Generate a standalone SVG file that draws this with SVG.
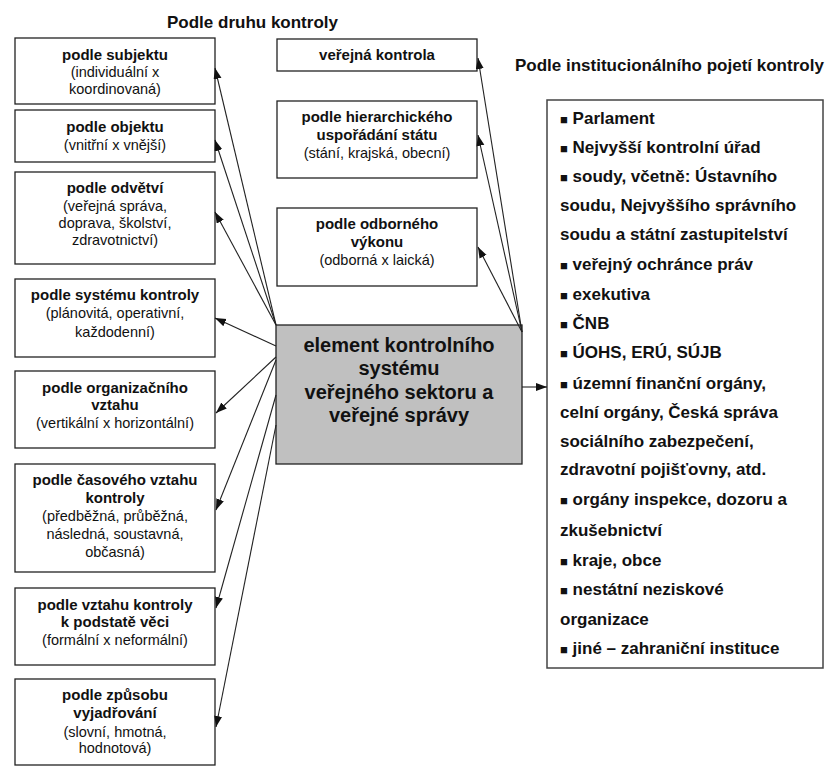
<svg xmlns="http://www.w3.org/2000/svg" width="827" height="767" viewBox="0 0 827 767">
<defs>
<style>
.box{fill:#fff;stroke:#222;stroke-width:1.3}
.cbox{fill:#c0c0c0;stroke:#222;stroke-width:1.3}
.rbox{fill:#fff;stroke:#444;stroke-width:1.5}
text{font-family:"Liberation Sans",Arial,sans-serif;fill:#111;text-anchor:middle}
.t{font-size:15px;font-weight:bold}
.s{font-size:14.5px}
.h{font-size:17px;font-weight:bold;text-anchor:start}
.c{font-size:20px;font-weight:bold}
.r{font-size:17px;font-weight:bold;text-anchor:start}
.b{font-size:13px}
.con line{stroke:#222;stroke-width:1.1}
</style>
<marker id="ah" markerWidth="12" markerHeight="10" refX="11" refY="4" orient="auto" markerUnits="userSpaceOnUse"><path d="M0,0 L11,4 L0,8 z" fill="#111"/></marker>
</defs>
<rect width="827" height="767" fill="#fff"/>
<text class="h" x="167" y="28">Podle druhu kontroly</text>
<text class="h" x="515" y="71">Podle institucionálního pojetí kontroly</text>

<g id="n1"><rect class="box" x="15" y="38" width="200" height="66"/>
<text class="t" x="115" y="60">podle subjektu</text><text class="s" x="115" y="77">(individuální x</text><text class="s" x="115" y="94">koordinovaná)</text></g>
<g id="n2"><rect class="box" x="15" y="110" width="200" height="52"/>
<text class="t" x="115" y="132">podle objektu</text><text class="s" x="115" y="150">(vnitřní x vnější)</text></g>
<g id="n3"><rect class="box" x="15" y="172" width="200" height="92"/>
<text class="t" x="115" y="193">podle odvětví</text><text class="s" x="115" y="211">(veřejná správa,</text><text class="s" x="115" y="228">doprava, školství,</text><text class="s" x="115" y="245">zdravotnictví)</text></g>
<g id="n4"><rect class="box" x="15" y="279" width="200" height="78"/>
<text class="t" x="115" y="300">podle systému kontroly</text><text class="s" x="115" y="318">(plánovitá, operativní,</text><text class="s" x="115" y="337">každodenní)</text></g>
<g id="n5"><rect class="box" x="15" y="371" width="200" height="77"/>
<text class="t" x="115" y="393">podle organizačního</text><text class="t" x="115" y="410">vztahu</text><text class="s" x="115" y="428">(vertikální x horizontální)</text></g>
<g id="n6"><rect class="box" x="15" y="464" width="200" height="108"/>
<text class="t" x="115" y="485">podle časového vztahu</text><text class="t" x="115" y="503">kontroly</text><text class="s" x="115" y="521">(předběžná, průběžná,</text><text class="s" x="115" y="539">následná, soustavná,</text><text class="s" x="115" y="557">občasná)</text></g>
<g id="n7"><rect class="box" x="15" y="588" width="200" height="77"/>
<text class="t" x="115" y="610">podle vztahu kontroly</text><text class="t" x="115" y="627">k podstatě věci</text><text class="s" x="115" y="645">(formální x neformální)</text></g>
<g id="n8"><rect class="box" x="15" y="679" width="200" height="86"/>
<text class="t" x="115" y="700">podle způsobu</text><text class="t" x="115" y="718">vyjadřování</text><text class="s" x="115" y="737">(slovní, hmotná,</text><text class="s" x="115" y="753">hodnotová)</text></g>

<g id="m1"><rect class="box" x="277" y="39" width="200" height="32"/>
<text class="t" x="377" y="60">veřejná kontrola</text></g>
<g id="m2"><rect class="box" x="277" y="101" width="200" height="77"/>
<text class="t" x="377" y="122">podle hierarchického</text><text class="t" x="377" y="140">uspořádání státu</text><text class="s" x="377" y="158">(stání, krajská, obecní)</text></g>
<g id="m3"><rect class="box" x="277" y="208" width="200" height="78"/>
<text class="t" x="377" y="229">podle odborného</text><text class="t" x="377" y="247">výkonu</text><text class="s" x="377" y="265">(odborná x laická)</text></g>

<g id="center"><rect class="cbox" x="276" y="325" width="246" height="139"/>
<text class="c" x="399" y="352">element kontrolního</text><text class="c" x="399" y="375">systému</text><text class="c" x="399" y="399">veřejného sektoru a</text><text class="c" x="399" y="422">veřejné správy</text></g>

<g id="inst"><rect class="rbox" x="547" y="100" width="276" height="568"/>
<text class="r" x="560" y="124"><tspan class="b">■</tspan> Parlament</text>
<text class="r" x="560" y="153"><tspan class="b">■</tspan> Nejvyšší kontrolní úřad</text>
<text class="r" x="560" y="182"><tspan class="b">■</tspan> soudy, včetně: Ústavního</text>
<text class="r" x="560" y="211">soudu, Nejvyššího správního</text>
<text class="r" x="560" y="240">soudu a státní zastupitelství</text>
<text class="r" x="560" y="270"><tspan class="b">■</tspan> veřejný ochránce práv</text>
<text class="r" x="560" y="300"><tspan class="b">■</tspan> exekutiva</text>
<text class="r" x="560" y="329"><tspan class="b">■</tspan> ČNB</text>
<text class="r" x="560" y="358"><tspan class="b">■</tspan> ÚOHS, ERÚ, SÚJB</text>
<text class="r" x="560" y="389"><tspan class="b">■</tspan> územní finanční orgány,</text>
<text class="r" x="560" y="418">celní orgány, Česká správa</text>
<text class="r" x="560" y="447">sociálního zabezpečení,</text>
<text class="r" x="560" y="475">zdravotní pojišťovny, atd.</text>
<text class="r" x="560" y="505"><tspan class="b">■</tspan> orgány inspekce, dozoru a</text>
<text class="r" x="560" y="536">zkušebnictví</text>
<text class="r" x="560" y="566"><tspan class="b">■</tspan> kraje, obce</text>
<text class="r" x="560" y="595"><tspan class="b">■</tspan> nestátní neziskové</text>
<text class="r" x="560" y="625">organizace</text>
<text class="r" x="560" y="654"><tspan class="b">■</tspan> jiné – zahraniční instituce</text></g>

<g id="connectors" class="con">
<line x1="276" y1="325" x2="215" y2="68" marker-end="url(#ah)"/>
<line x1="276" y1="325" x2="215" y2="140" marker-end="url(#ah)"/>
<line x1="276" y1="325" x2="215" y2="212" marker-end="url(#ah)"/>
<line x1="276" y1="346" x2="215" y2="318" marker-end="url(#ah)"/>
<line x1="276" y1="357" x2="216" y2="413" marker-end="url(#ah)"/>
<line x1="276" y1="360" x2="216" y2="510" marker-end="url(#ah)"/>
<line x1="276" y1="395" x2="216" y2="608" marker-end="url(#ah)"/>
<line x1="276" y1="425" x2="216" y2="727" marker-end="url(#ah)"/>
<line x1="522" y1="332" x2="478" y2="58" marker-end="url(#ah)"/>
<line x1="522" y1="332" x2="478" y2="135" marker-end="url(#ah)"/>
<line x1="522" y1="332" x2="478" y2="247" marker-end="url(#ah)"/>
<line x1="522" y1="387" x2="547" y2="387" marker-end="url(#ah)"/>
</g>
</svg>
